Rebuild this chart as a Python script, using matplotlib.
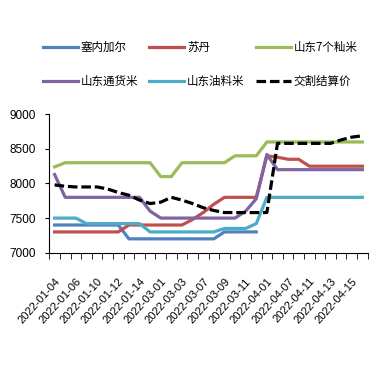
import numpy as np
import matplotlib
matplotlib.use('Agg')
import matplotlib.pyplot as plt

plt.rcParams['font.family'] = ['Noto Sans CJK SC', 'DejaVu Sans']

dates = ['2022-01-04', '2022-01-05', '2022-01-06', '2022-01-07', '2022-01-10',
         '2022-01-11', '2022-01-12', '2022-01-13', '2022-01-14', '2022-02-28',
         '2022-03-01', '2022-03-02', '2022-03-03', '2022-03-04', '2022-03-07',
         '2022-03-08', '2022-03-09', '2022-03-10', '2022-03-11', '2022-03-14',
         '2022-04-01', '2022-04-06', '2022-04-07', '2022-04-08', '2022-04-11',
         '2022-04-12', '2022-04-13', '2022-04-14', '2022-04-15', '2022-04-18']

senegal = [7400]*7 + [7200]*9 + [7300]*4 + [np.nan]*10
sudan = [7300]*7 + [7400]*6 + [7480, 7580, 7700] + [7800]*4 + [8400, 8380, 8350, 8350] + [8250]*6
sd_indica = [8240] + [8300]*9 + [8100, 8100] + [8300]*5 + [8400]*3 + [8600]*10
sd_common = [8130] + [7800]*8 + [7600] + [7500]*8 + [7600, 7780, 8420] + [8200]*9
sd_oil = [7500]*3 + [7420]*6 + [7300]*7 + [7350]*3 + [7420] + [7800]*10
settle = [7980, 7960, 7950, 7950, 7950, 7920, 7870, 7830, 7760, 7710,
          7730, 7800, 7760, 7710, 7650, 7610, 7580, 7580, 7580, 7580,
          7580] + [8580]*6 + [8630, 8670, 8690]

names = ['塞内加尔', '苏丹', '山东7个籼米', '山东通货米', '山东油料米', '交割结算价']
colors = ['#4F81BD', '#C0504D', '#9BBB59', '#8064A2', '#4BACC6', 'black']

fig = plt.figure(figsize=(3.78, 3.66), dpi=100)
ax = fig.add_axes([0.1304, 0.3096, 0.8424, 0.3781])

x = np.arange(len(dates))
handles = []
for ys, name, c in zip([senegal, sudan, sd_indica, sd_common, sd_oil], names[:5], colors[:5]):
    h, = ax.plot(x, ys, color=c, lw=2.3, label=name)
    handles.append(h)
h, = ax.plot(x, settle, color='black', lw=2.3, ls=(0, (3, 1.2)), label=names[5])
handles.append(h)

ax.set_xlim(-0.5, len(dates) - 0.5)
ax.set_ylim(7000, 9000)
ax.set_yticks([7000, 7500, 8000, 8500, 9000])
ax.spines['top'].set_visible(False)
ax.spines['right'].set_visible(False)

ax.set_xticks(np.arange(-0.5, len(dates)), minor=True)
ax.tick_params(axis='x', which='major', length=0, pad=17)
ax.tick_params(axis='x', which='minor', length=4, direction='out')
ax.tick_params(axis='y', length=3, direction='out', pad=7)
ax.set_xticks(x[::2])
ax.set_xticklabels(dates[::2], rotation=48, ha='right', va='top',
                   rotation_mode='anchor', family='Liberation Sans', fontsize=8)
for lab in ax.get_yticklabels():
    lab.set_family('Liberation Sans')
    lab.set_fontsize(8.5)

order = [0, 3, 1, 4, 2, 5]
fig.legend([handles[i] for i in order], [names[i] for i in order],
           loc='upper left', bbox_to_anchor=(43/378, 1 - 41/366), ncol=3,
           frameon=False, fontsize=8.3, handlelength=3.0, handletextpad=0.25,
           columnspacing=1.0, labelspacing=1.8, borderpad=0, borderaxespad=0)

fig.savefig('out.png', dpi=100)
